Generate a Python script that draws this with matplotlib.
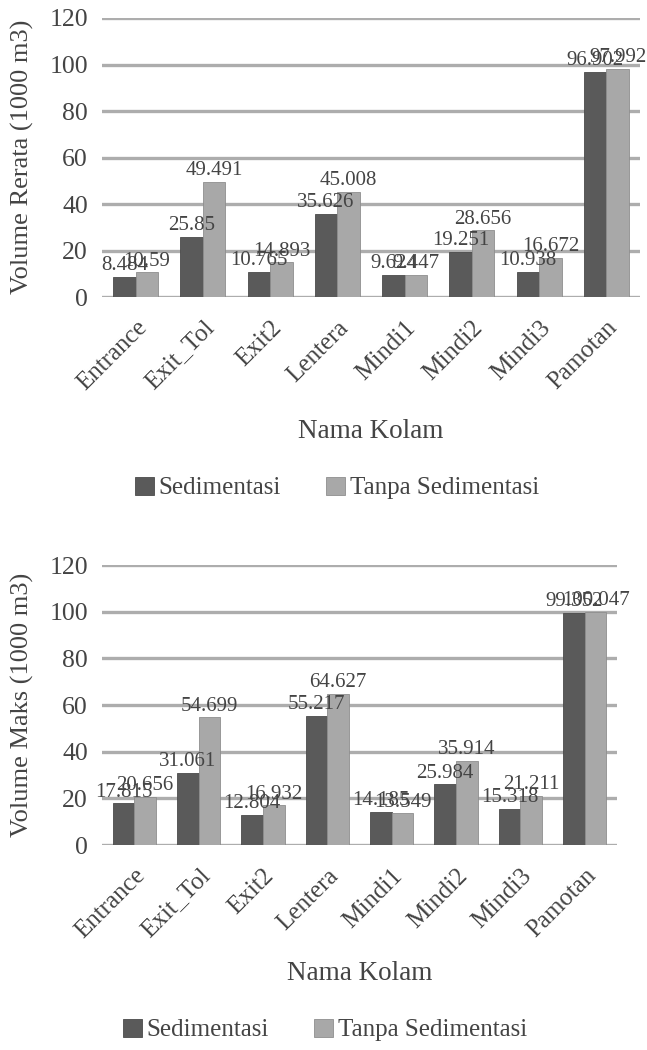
import matplotlib
matplotlib.use("Agg")
import matplotlib.pyplot as plt
import numpy as np

categories = ["Entrance", "Exit_Tol", "Exit2", "Lentera", "Mindi1", "Mindi2", "Mindi3", "Pamotan"]
rerata_sed = [8.484, 25.85, 10.765, 35.626, 9.624, 19.251, 10.938, 96.902]
rerata_tanpa = [10.59, 49.491, 14.893, 45.008, 9.447, 28.656, 16.672, 97.992]
maks_sed = [17.815, 31.061, 12.804, 55.217, 14.185, 25.984, 15.318, 99.352]
maks_tanpa = [20.656, 54.699, 16.932, 64.627, 13.549, 35.914, 21.211, 100.047]
yticks = [0, 20, 40, 60, 80, 100, 120]
series_names = ["Sedimentasi", "Tanpa Sedimentasi"]

plt.rcParams['font.family'] = ['Liberation Serif', 'DejaVu Serif']
TXT = "#444444"
DARK = "#5a5a5a"
LIGHT = "#a8a8a8"
GRID = "#adadad"

W, H = 647, 1050
fig = plt.figure(figsize=(W/100, H/100), dpi=100)

def draw(rect, s1, s2, ylabel, ylabel_y, xlabel_y, legend_x, legend_y):
    ax = fig.add_axes(rect)
    x = np.arange(len(categories))
    w = 0.335
    b1 = ax.bar(x - w/2, s1, w, color=DARK, edgecolor="#4a4a4a", linewidth=0.6, label=series_names[0], zorder=3)
    b2 = ax.bar(x + w/2, s2, w, color=LIGHT, edgecolor="#8e8e8e", linewidth=0.6, label=series_names[1], zorder=3)
    for bars, vals in ((b1, s1), (b2, s2)):
        for r, v in zip(bars, vals):
            ax.text(r.get_x() + r.get_width()/2, v + 0.8, f"{v:g}", ha="center", va="bottom",
                    fontsize=15, color=TXT, zorder=4)
    ax.set_xlim(-0.5, len(categories) - 0.5)
    ax.set_ylim(0, 120)
    ax.set_yticks(yticks)
    ax.set_yticklabels([str(t) for t in yticks], fontsize=18.5, color=TXT)
    ax.yaxis.grid(True, color=GRID, linewidth=2.4, zorder=0)
    ax.set_axisbelow(True)
    for s in ax.spines.values():
        s.set_visible(False)
    ax.tick_params(axis="y", length=0, pad=10)
    ax.set_xticks(x)
    ax.set_xticklabels(categories, rotation=45, ha="right", rotation_mode="anchor",
                       fontsize=18, color=TXT)
    ax.tick_params(axis="x", length=0, pad=14)
    fig.text(22/W, ylabel_y, ylabel, rotation=90, ha="center", va="center", fontsize=19, color=TXT)
    fig.text((rect[0] + rect[2]/2), xlabel_y, "Nama Kolam", ha="center", va="center", fontsize=19.5, color=TXT)
    fig.legend(handles=[b1, b2], labels=series_names, loc="center", bbox_to_anchor=(legend_x, legend_y),
               ncol=2, frameon=False, fontsize=18, handlelength=0.75, handleheight=0.75,
               handletextpad=0.2, columnspacing=1.8, labelcolor=TXT)
    return ax

draw([102/W, 1 - 297/H, 538/W, 279/H], rerata_sed, rerata_tanpa, "Volume Rerata (1000 m3)",
     1 - 157/H, 1 - 432/H, 337/W, 1 - 488/H)
draw([102/W, 1 - 845/H, 515/W, 280/H], maks_sed, maks_tanpa, "Volume Maks (1000 m3)",
     1 - 705/H, 1 - 973/H, 325/W, 1 - 1030/H)

fig.savefig("out.png", dpi=100, facecolor="white")
